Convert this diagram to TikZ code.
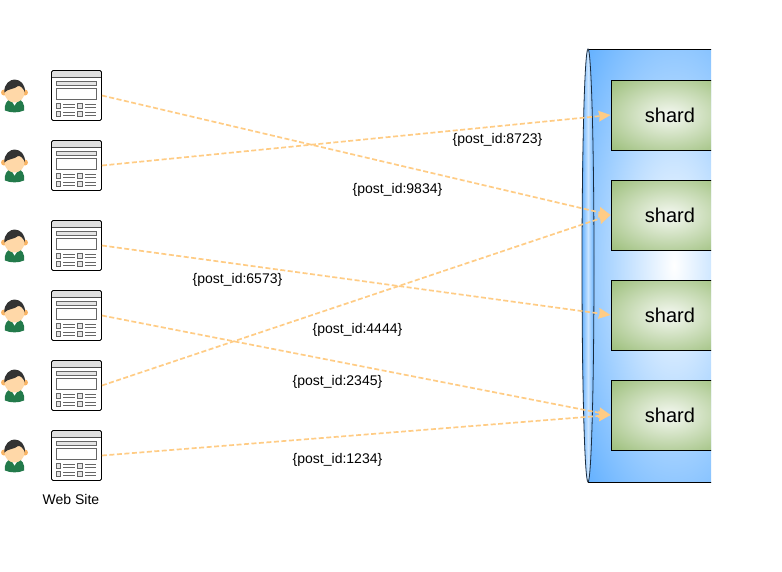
\documentclass[tikz,border=0pt]{standalone}
\usepackage{fontspec}
\setmainfont{Liberation Sans}
\usetikzlibrary{positioning, arrows.meta, shapes.geometric}
\definecolor{dbblue}{HTML}{66B2FF}
\definecolor{shardgreen}{HTML}{9DBF7C}
\definecolor{wireorange}{HTML}{FFCC85}
\definecolor{hairgray}{HTML}{333333}
\definecolor{skintone}{HTML}{FFD8A8}
\definecolor{eartone}{HTML}{F9B565}
\definecolor{shirtgreen}{HTML}{237A4B}
\definecolor{pagegray}{HTML}{666666}
\pgfdeclareradialshading{dbglow}{\pgfpoint{0bp}{0bp}}{color(0bp)=(white); color(35bp)=(dbblue); color(50bp)=(dbblue)}
\pgfdeclareradialshading{shardglow}{\pgfpoint{0bp}{0bp}}{color(0bp)=(white!90!shardgreen); color(35bp)=(shardgreen); color(50bp)=(shardgreen)}
\pgfdeclarehorizontalshading{capglow}{100bp}{color(0bp)=(dbblue); color(25bp)=(dbblue); color(50bp)=(white!65!dbblue); color(75bp)=(dbblue); color(100bp)=(dbblue)}
\tikzset{
    x=1pt, y=-1pt, % Same units as the screen
    wire/.style={->, >={Stealth[length=12pt, width=11pt, inset=1pt, fill=wireorange, line width=0pt]}, wireorange, line width=1.7pt, dash pattern=on 5pt off 2.5pt},
    postlabel/.style={font=\fontsize{14}{16}\selectfont, inner sep=0pt},
    sitebox/.style={draw=black, fill=white, line width=0.9pt, rounded corners=1.5pt, minimum size=50pt, inner sep=0pt, path picture={
        \begin{scope}[shift={(path picture bounding box.center)}, line width=0.8pt, rounded corners=0pt]
            \draw[draw=black!70, fill=gray!25] (-26,-26) rectangle (26,-18.5);
            \draw[draw=pagegray, fill=gray!20] (-20.5,-14) rectangle (20,-10.5);
            \draw[draw=pagegray] (-20,-7.5) rectangle (20,3.5);
            % Two rows of small fields
            \draw[draw=pagegray, fill=gray!20] (-20,7.5) rectangle (-16,12.5) (1,7.5) rectangle (5.5,12.5);
            \draw[draw=pagegray, fill=gray!20] (-20,15.5) rectangle (-16,20.5) (1,15.5) rectangle (5.5,20.5);
            \draw[draw=pagegray] (-13.5,8.5) -- (-1.5,8.5) (-13.5,11.5) -- (-1.5,11.5) (8.5,8.5) -- (19.5,8.5) (8.5,11.5) -- (19.5,11.5);
            \draw[draw=pagegray] (-13.5,16.5) -- (-1.5,16.5) (-13.5,19.5) -- (-1.5,19.5) (8.5,16.5) -- (19.5,16.5) (8.5,19.5) -- (19.5,19.5);
        \end{scope}}},
    userbox/.style={minimum width=30pt, minimum height=38pt, inner sep=0pt, path picture={
        \begin{scope}[shift={(path picture bounding box.center)}]
            \fill[shirtgreen] (-9.5,15) .. controls (-10.5,8) and (-7,4.5) .. (-4,4) -- (4.5,4) .. controls (7,4.5) and (10.5,8) .. (9.5,15) .. controls (4,17.5) and (-4,17.5) .. (-9.5,15) -- cycle;
            \fill[white] (-4,3.5) -- (0,10) -- (4.5,3.5) -- cycle;
            \fill[eartone] (-10.5,-3) circle (3) (10.5,-3) circle (3);
            \fill[skintone] (0,-3) circle [radius=10];
            \fill[hairgray] (-10,-3) .. controls (-11,-12) and (-4,-16) .. (0,-16) .. controls (6,-16) and (11,-11) .. (10.5,-3) .. controls (9,-7) and (6,-10) .. (3.5,-9.5) .. controls (0,-6) and (-7,-7) .. (-10,-3) -- cycle;
        \end{scope}}},
    dbbody/.style={draw=black, line width=0.8pt, shade, shading=dbglow, minimum width=172pt, minimum height=433pt, inner sep=0pt},
    dbcap/.style={ellipse, draw=black!75!dbblue, line width=0.8pt, shade, shading=capglow, minimum width=12pt, minimum height=433pt, inner sep=0pt},
    shardbox/.style={draw=black, line width=0.8pt, shade, shading=shardglow, minimum width=116pt, minimum height=70pt, inner sep=0pt, font=\fontsize{20}{24}\selectfont},
}
\begin{document}
\begin{tikzpicture}[on grid, node distance=70pt]
    \useasboundingbox (0,0) rectangle (782,571);

    % --- Database, cut off on the right ---
    \begin{scope}
        \clip (570,40) rectangle (711,495);
        \node[dbbody] (db) at (674,265.5) {};
        \node[dbcap] (dbleft) at (588,265.5) {};
        \node[shardbox] (shard1) at (669,115) {\hspace{2pt}shard};
        \node[shardbox] (shard2) [below=100pt of shard1] {\hspace{2pt}shard};
        \node[shardbox] (shard3) [below=100pt of shard2] {\hspace{2pt}shard};
        \node[shardbox] (shard4) [below=100pt of shard3] {\hspace{2pt}shard};
    \end{scope}

    % --- Sites ---
    \node[sitebox] (site1) at (76.5,95.5) {};
    \node[sitebox] (site2) [below=of site1] {};
    \node[sitebox] (site3) [below=80pt of site2] {};
    \node[sitebox] (site4) [below=of site3] {};
    \node[sitebox] (site5) [below=of site4] {};
    \node[sitebox] (site6) [below=of site5] {};
    \node[postlabel] (sitename) at (71,499.5) {Web Site};

    % --- Users ---
    \node[userbox] (user1) [left=62pt of site1] {};
    \node[userbox] (user2) [left=62pt of site2] {};
    \node[userbox] (user3) [left=62pt of site3] {};
    \node[userbox] (user4) [left=62pt of site4] {};
    \node[userbox] (user5) [left=62pt of site5] {};
    \node[userbox] (user6) [left=62pt of site6] {};

    % --- Requests ---
    \draw[wire] (site1.east) -- (shard2.west);
    \draw[wire] (site2.east) -- (shard1.west);
    \draw[wire] (site3.east) -- (shard3.west);
    \draw[wire] (site4.east) -- (shard4.west);
    \draw[wire] (site5.east) -- (shard2.west);
    \draw[wire] (site6.east) -- (shard4.west);

    % --- Labels ---
    \node[postlabel] (post1) at (497.5,140) {\{post\_id:8723\}};
    \node[postlabel] (post2) at (397.5,190) {\{post\_id:9834\}};
    \node[postlabel] (post3) at (237.5,280) {\{post\_id:6573\}};
    \node[postlabel] (post4) at (357.5,330) {\{post\_id:4444\}};
    \node[postlabel] (post5) at (337.5,382) {\{post\_id:2345\}};
    \node[postlabel] (post6) at (337.5,460) {\{post\_id:1234\}};
\end{tikzpicture}
\end{document}
